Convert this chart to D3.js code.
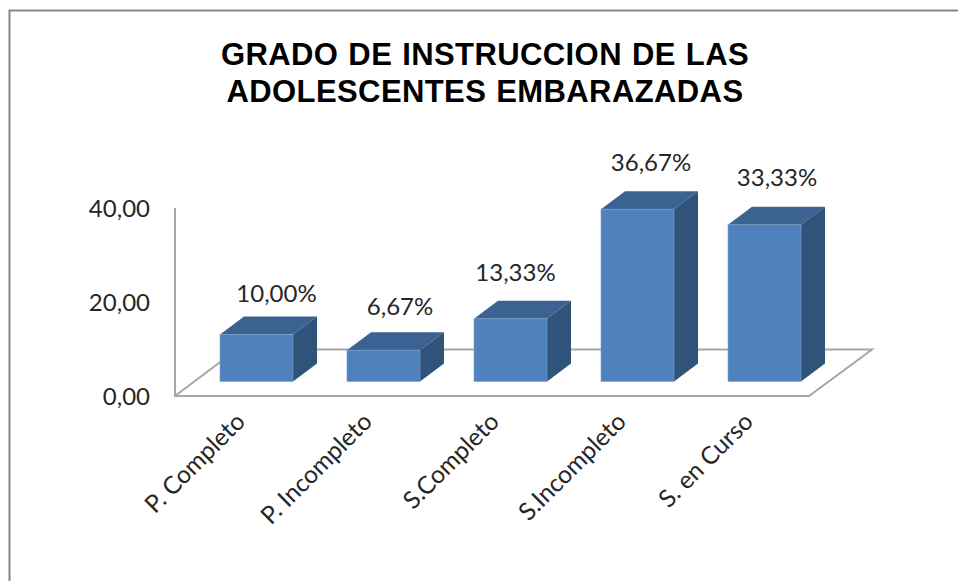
<!DOCTYPE html>
<html><head><meta charset="utf-8">
<script src="https://cdn.jsdelivr.net/npm/d3@7"></script>
<style>html,body{margin:0;padding:0;background:#fff}svg{display:block}</style>
</head><body><svg id="c" width="958" height="581"></svg>
<script>
const categories=["P. Completo","P. Incompleto","S.Completo","S.Incompleto","S. en Curso"];
const values=[10.00,6.67,13.33,36.67,33.33];
const valueLabels=["10,00%","6,67%","13,33%","36,67%","33,33%"];
const yTicks=[0,20,40];
const titleLines=["GRADO DE INSTRUCCION DE LAS","ADOLESCENTES EMBARAZADAS"];

const svg=d3.select("#c");
const axisFont="Lato, Carlito, sans-serif";
const bdx=24,bdy=18;
const y=d3.scaleLinear().domain([0,40]).range([396,208]);
const x=d3.scaleBand().domain(categories).range([193,828]).paddingInner(0.4252).paddingOuter(0.2126);
const labelShiftX=[20,16.5,5,13.5,12.5], labelShiftY=[33,35,38,38,39];

// frame
svg.append("path").attr("d","M9.5,581V10.5H958").attr("fill","none").attr("stroke","#868686").attr("stroke-width",2);

// title
svg.append("g").selectAll("text").data(titleLines).join("text")
 .attr("x",485).attr("y",(d,i)=>65+i*36.5).attr("text-anchor","middle")
 .attr("font-family","Liberation Sans, Arial, sans-serif").attr("font-weight","700").attr("font-size",31)
 .attr("letter-spacing",0.4).attr("word-spacing",1)
 .attr("fill","#000").text(d=>d);

// floor + wall
const g=svg.append("g").attr("fill","none").attr("stroke","#a6a6a6").attr("stroke-width",2);
g.append("path").attr("d",`M175,${y(40)}V${y(0)}H809L872,349.5H237L175,${y(0)}`);

// y labels
svg.append("g").selectAll("text").data(yTicks).join("text")
 .attr("x",150).attr("y",d=>y(d)+8.5).attr("text-anchor","end")
 .attr("font-family",axisFont).attr("font-size",24).attr("fill","#262626")
 .text(d=>d3.format(".2f")(d).replace(".",","));

// bars
const base=y(0)-14.5;
const bars=svg.append("g").selectAll("g").data(categories).join("g");
const h=i=>y(0)-y(values[i]);
bars.append("path").attr("fill","#3b6291").attr("d",(d,i)=>{const l=x(d),r=l+x.bandwidth(),t=base-h(i);
 return `M${l},${t}L${l+bdx},${t-bdy}H${r+bdx}L${r},${t}Z`;});
bars.append("path").attr("fill","#305379").attr("d",(d,i)=>{const r=x(d)+x.bandwidth(),t=base-h(i);
 return `M${r},${t}L${r+bdx},${t-bdy}V${base-bdy}L${r},${base}Z`;});
bars.append("rect").attr("fill","#4f81bd").attr("stroke","#7ba0cd").attr("stroke-width",0.6)
 .attr("x",d=>x(d)).attr("y",(d,i)=>base-h(i)).attr("width",x.bandwidth()).attr("height",(d,i)=>h(i));

// value labels
bars.append("text").attr("x",(d,i)=>x(d)+x.bandwidth()/2+labelShiftX[i]).attr("y",(d,i)=>base-h(i)-labelShiftY[i])
 .attr("text-anchor","middle").attr("font-family",axisFont).attr("font-size",24).attr("fill","#262626")
 .text((d,i)=>valueLabels[i]);

// category labels
bars.append("text").attr("transform",d=>`translate(${x(d)+x.bandwidth()/2-16},${y(0)+21}) rotate(-45)`)
 .attr("text-anchor","end").attr("font-family",axisFont).attr("font-size",24.5).attr("fill","#262626").attr("dy","0.35em")
 .text(d=>d);
</script></body></html>
